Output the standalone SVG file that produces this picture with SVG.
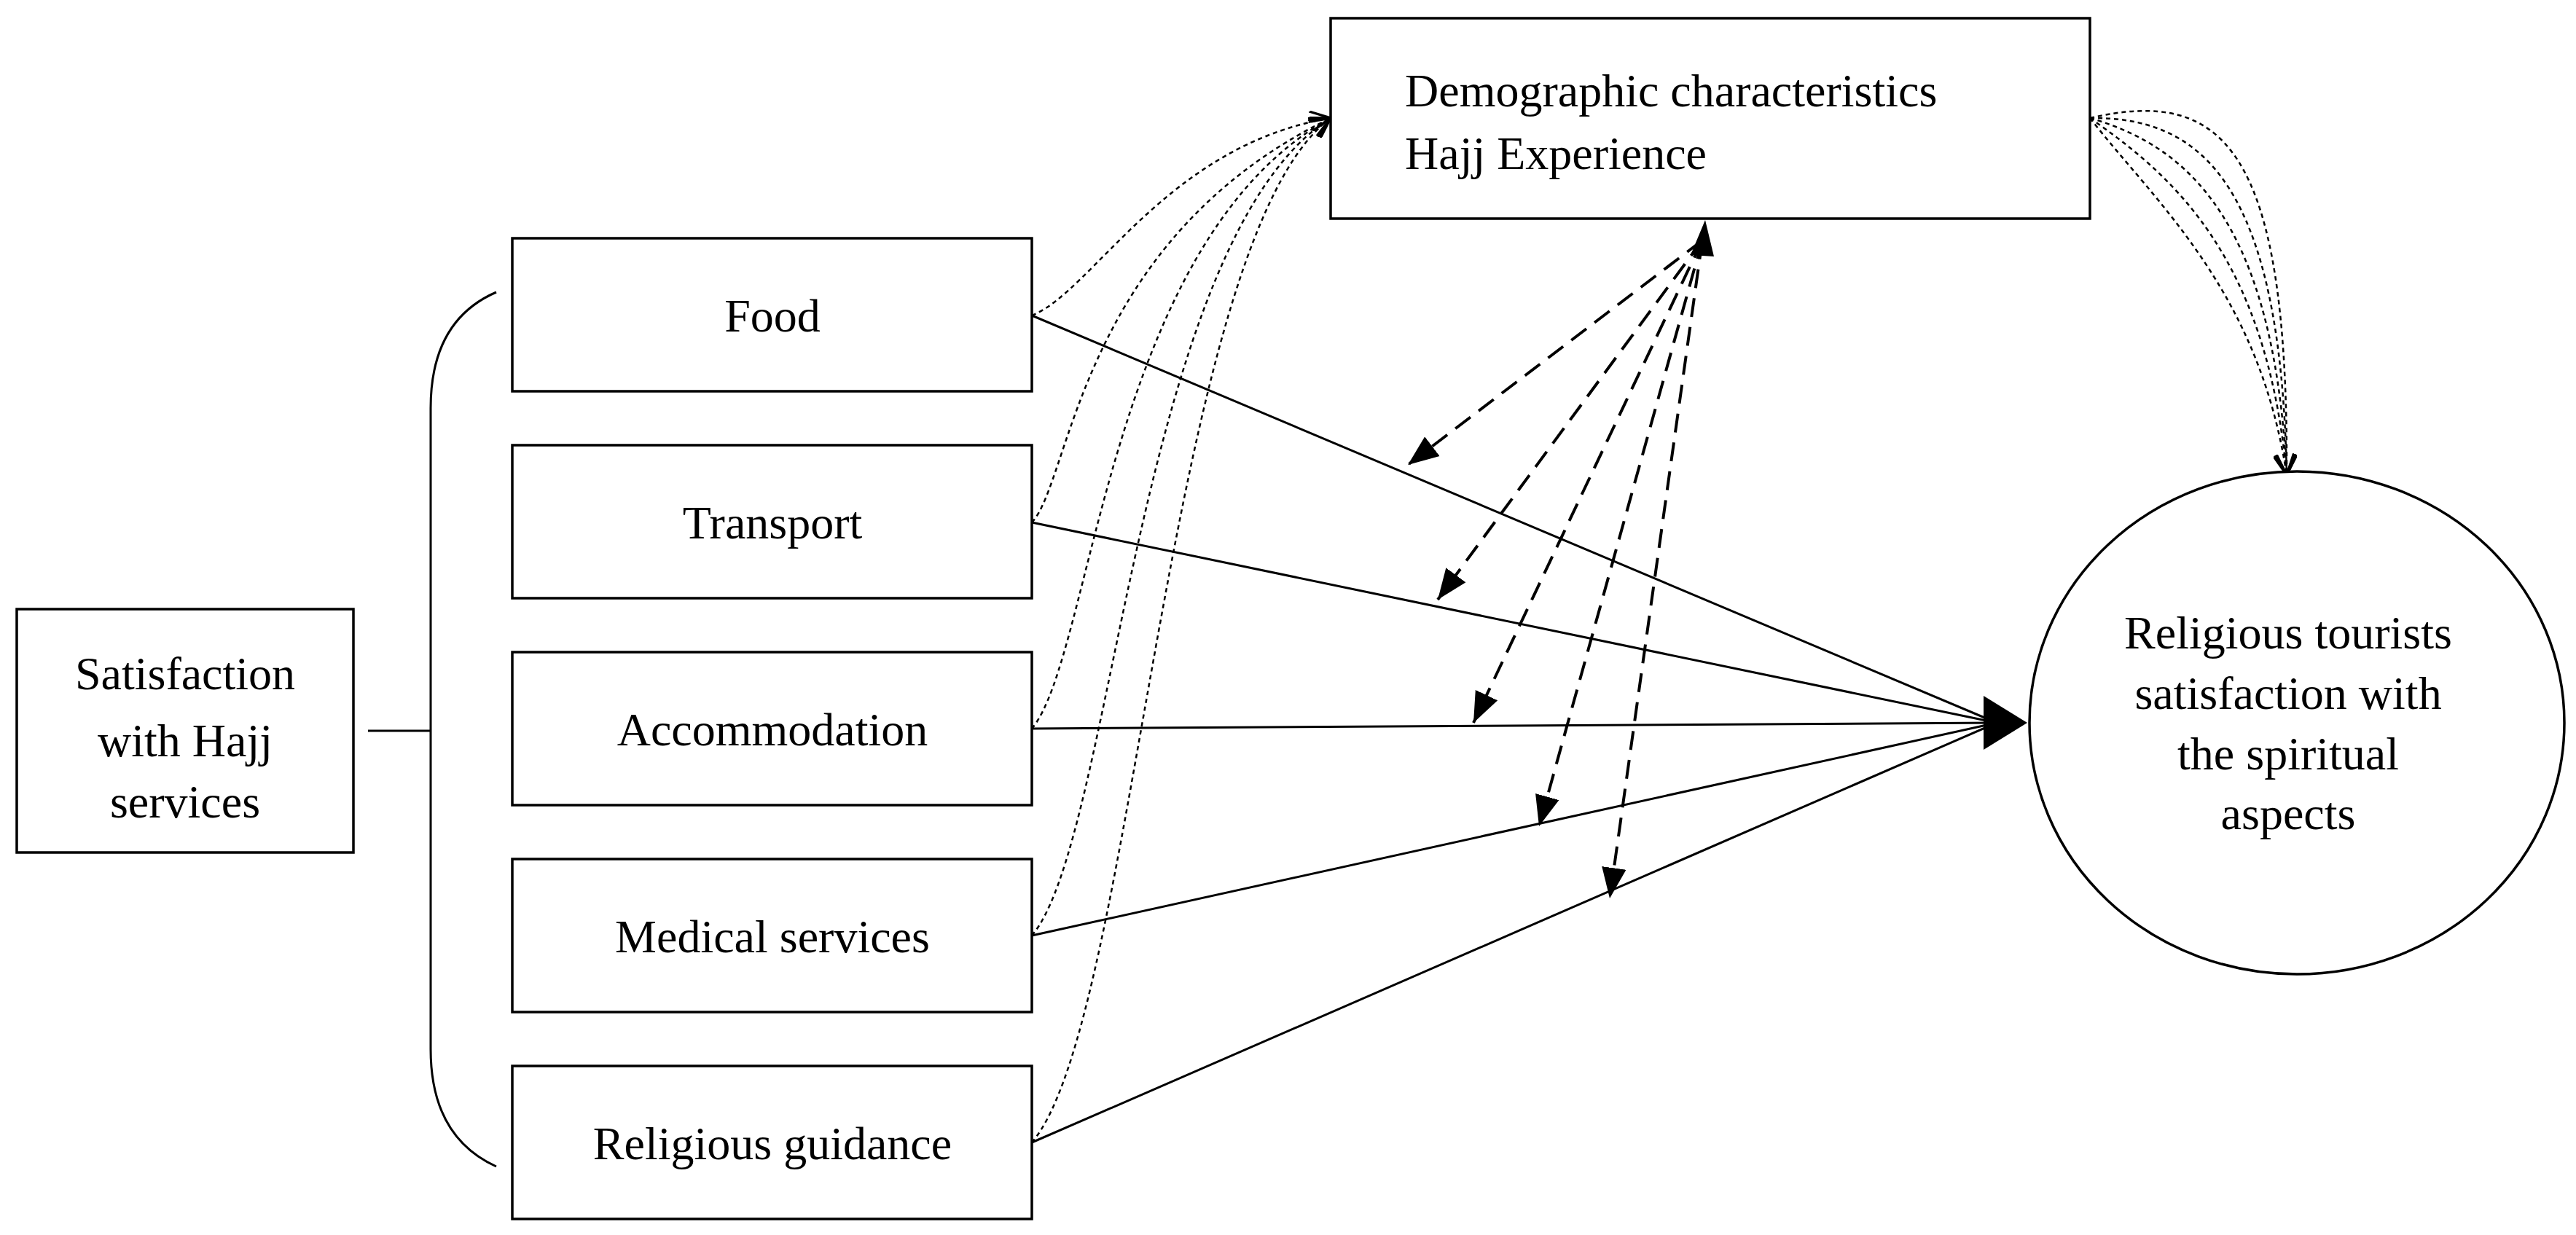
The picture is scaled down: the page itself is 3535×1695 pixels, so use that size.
<svg xmlns="http://www.w3.org/2000/svg" width="3535" height="1695" viewBox="0 0 3535 1695">
<defs>
<style>
.box{fill:#fff;stroke:#000;stroke-width:3.5}
.t{font-family:"Liberation Serif","DejaVu Serif",serif;font-size:64px;fill:#000;text-anchor:middle}
.solid{fill:none;stroke:#000;stroke-width:3}
.dash{fill:none;stroke:#000;stroke-width:4;stroke-dasharray:26,14}
.dot{fill:none;stroke:#000;stroke-width:2.5;stroke-dasharray:6,5}
</style>
<marker id="da" viewBox="0 0 10 10" refX="10" refY="5" markerWidth="42" markerHeight="42" markerUnits="userSpaceOnUse" orient="auto"><path d="M0,1 L10,5 L0,9 z" fill="#000"/></marker>
<marker id="op" viewBox="0 0 10 10" refX="10" refY="5" markerWidth="28" markerHeight="28" markerUnits="userSpaceOnUse" orient="auto"><path d="M0,0 L10,5 L0,10" fill="none" stroke="#000" stroke-width="1.2"/></marker>
</defs>
<rect width="3535" height="1695" fill="#fff"/>
<g id="connectors">
<path class="solid" d="M505,1003 H591"/>
<path class="solid" d="M681,401 Q591,440 591,560 V1440 Q591,1560 681,1601"/>
<line class="solid" x1="1416" y1="433" x2="2740" y2="992"/>
<line class="solid" x1="1416" y1="717" x2="2740" y2="992"/>
<line class="solid" x1="1416" y1="1000" x2="2740" y2="992"/>
<line class="solid" x1="1416" y1="1284" x2="2740" y2="992"/>
<line class="solid" x1="1416" y1="1568" x2="2740" y2="992"/>
<polygon points="2722,955 2782,992 2722,1029" fill="#000"/>
<polygon points="2340,302 2320,350 2352,352" fill="#000"/>
<line class="dash" x1="2336" y1="330" x2="1932" y2="638" marker-end="url(#da)"/>
<line class="dash" x1="2336" y1="330" x2="1973" y2="823" marker-end="url(#da)"/>
<line class="dash" x1="2336" y1="330" x2="2022" y2="992" marker-end="url(#da)"/>
<line class="dash" x1="2336" y1="330" x2="2112" y2="1134" marker-end="url(#da)"/>
<line class="dash" x1="2336" y1="330" x2="2209" y2="1233" marker-end="url(#da)"/>
<path class="dot" d="M1416,433 C1500,400 1600,200 1826,162" marker-end="url(#op)"/>
<path class="dot" d="M1416,717 C1470,660 1480,330 1826,162" marker-end="url(#op)"/>
<path class="dot" d="M1416,1000 C1500,900 1520,330 1826,162" marker-end="url(#op)"/>
<path class="dot" d="M1416,1284 C1530,1150 1560,330 1826,162" marker-end="url(#op)"/>
<path class="dot" d="M1416,1568 C1560,1400 1600,330 1826,162" marker-end="url(#op)"/>
<path class="dot" d="M2868,162 C3050,120 3140,200 3138,652" marker-end="url(#op)"/>
<path class="dot" d="M2868,162 C3020,160 3130,250 3138,652" marker-end="url(#op)"/>
<path class="dot" d="M2868,162 C3000,200 3120,300 3138,652" marker-end="url(#op)"/>
<path class="dot" d="M2868,162 C2980,240 3110,350 3138,652" marker-end="url(#op)"/>
<path class="dot" d="M2868,162 C2960,280 3100,400 3138,652" marker-end="url(#op)"/>
</g>
<g id="satisfaction"><rect class="box" x="23" y="836" width="462" height="334"/><text class="t" x="254" y="946">Satisfaction</text><text class="t" x="254" y="1038">with Hajj</text><text class="t" x="254" y="1122">services</text></g>
<g id="food"><rect class="box" x="703" y="327" width="713" height="210"/><text class="t" x="1060" y="455">Food</text></g>
<g id="transport"><rect class="box" x="703" y="611" width="713" height="210"/><text class="t" x="1060" y="739">Transport</text></g>
<g id="accommodation"><rect class="box" x="703" y="895" width="713" height="210"/><text class="t" x="1060" y="1023">Accommodation</text></g>
<g id="medical"><rect class="box" x="703" y="1179" width="713" height="210"/><text class="t" x="1060" y="1307">Medical services</text></g>
<g id="religious"><rect class="box" x="703" y="1463" width="713" height="210"/><text class="t" x="1060" y="1591">Religious guidance</text></g>
<g id="demographic"><rect class="box" x="1826" y="25" width="1042" height="275"/><text class="t" x="1928" y="146" style="text-anchor:start">Demographic characteristics</text><text class="t" x="1928" y="232" style="text-anchor:start">Hajj Experience</text></g>
<g id="outcome"><ellipse class="box" cx="3152" cy="992" rx="367" ry="345"/><text class="t" x="3140" y="890">Religious tourists</text><text class="t" x="3140" y="973">satisfaction with</text><text class="t" x="3140" y="1056">the spiritual</text><text class="t" x="3140" y="1138">aspects</text></g>
</svg>
